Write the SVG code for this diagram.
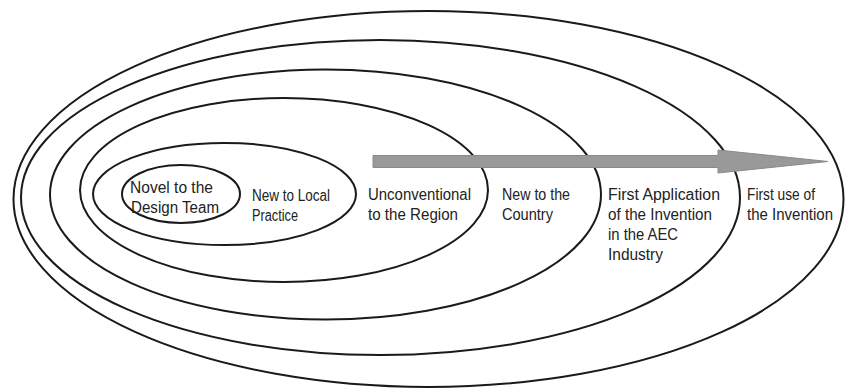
<svg xmlns="http://www.w3.org/2000/svg" width="846" height="391" viewBox="0 0 846 391">
<style>
.ring{fill:none;stroke:#1a1a1a;stroke-width:2}
.lbl{font-family:"Liberation Sans",Arial,sans-serif;font-size:16px;fill:#222}
</style>
<rect width="846" height="391" fill="#fff"/>
<g id="ring6"><ellipse class="ring" cx="428.5" cy="199" rx="415" ry="188"/>
<text class="lbl" x="747" y="200" textLength="68" lengthAdjust="spacingAndGlyphs">First use of</text>
<text class="lbl" x="747" y="220" textLength="86" lengthAdjust="spacingAndGlyphs">the Invention</text></g>
<g id="ring5"><ellipse class="ring" cx="380.5" cy="197.5" rx="359.5" ry="157.5"/>
<text class="lbl" x="608" y="200" textLength="112" lengthAdjust="spacingAndGlyphs">First Application</text>
<text class="lbl" x="608" y="220" textLength="104" lengthAdjust="spacingAndGlyphs">of the Invention</text>
<text class="lbl" x="608" y="240" textLength="70" lengthAdjust="spacingAndGlyphs">in the AEC</text>
<text class="lbl" x="608" y="260" textLength="55" lengthAdjust="spacingAndGlyphs">Industry</text></g>
<g id="ring4"><ellipse class="ring" cx="325.5" cy="194.5" rx="275.5" ry="125"/>
<text class="lbl" x="502" y="200" textLength="68" lengthAdjust="spacingAndGlyphs">New to the</text>
<text class="lbl" x="502" y="220" textLength="51" lengthAdjust="spacingAndGlyphs">Country</text></g>
<g id="ring3"><ellipse class="ring" cx="284" cy="190" rx="204" ry="92"/>
<text class="lbl" x="368" y="200" textLength="103" lengthAdjust="spacingAndGlyphs">Unconventional</text>
<text class="lbl" x="368" y="220" textLength="90" lengthAdjust="spacingAndGlyphs">to the Region</text></g>
<g id="ring2"><ellipse class="ring" cx="224.5" cy="194" rx="131.5" ry="51"/>
<text class="lbl" x="252" y="201" textLength="78" lengthAdjust="spacingAndGlyphs">New to Local</text>
<text class="lbl" x="252" y="221" textLength="46" lengthAdjust="spacingAndGlyphs">Practice</text></g>
<g id="ring1"><ellipse class="ring" cx="181" cy="194" rx="59" ry="29"/>
<text class="lbl" x="130" y="193" textLength="83" lengthAdjust="spacingAndGlyphs">Novel to the</text>
<text class="lbl" x="131" y="213" textLength="88" lengthAdjust="spacingAndGlyphs">Design Team</text></g>
<g id="connectors">
<polygon points="373,155.5 718,155.5 718,150 828,161.5 718,173 718,167.5 373,167.5" fill="#999" stroke="#8a8a8a" stroke-width="1"/>
</g>
</svg>
